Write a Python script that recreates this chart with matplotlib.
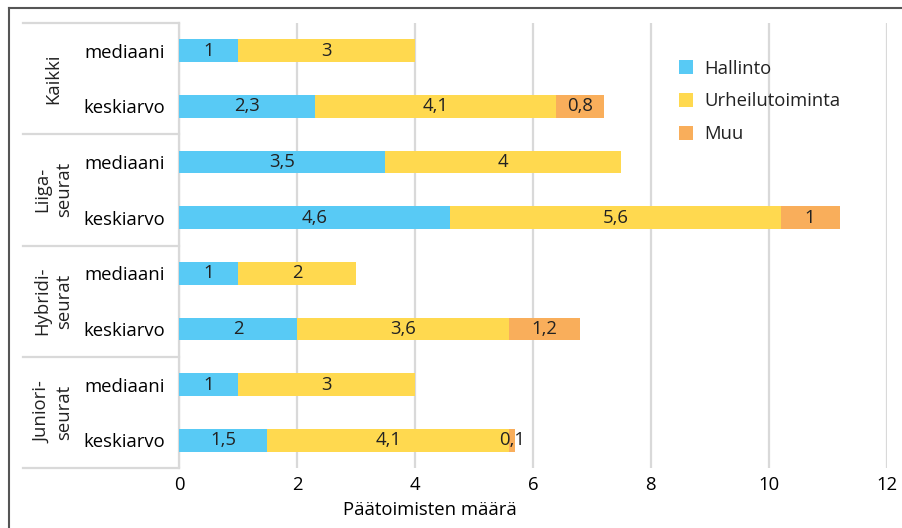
import numpy as np
import matplotlib.pyplot as plt
from matplotlib.lines import Line2D
from matplotlib.patches import Patch

plt.rcParams['font.family'] = ['Open Sans', 'DejaVu Sans']
plt.rcParams['text.color'] = '#222222'

# data (top -> bottom)
groups = ["Kaikki", "Liiga-\nseurat", "Hybridi-\nseurat", "Juniori-\nseurat"]
rows = ["mediaani", "keskiarvo"] * 4
hallinto = [1, 2.3, 3.5, 4.6, 1, 2, 1, 1.5]
urheilu = [3, 4.1, 4, 5.6, 2, 3.6, 3, 4.1]
muu = [0, 0.8, 0, 1, 0, 1.2, 0, 0.1]
series = ["Hallinto", "Urheilutoiminta", "Muu"]
colors = ["#58CAF5", "#FFD94F", "#F9AE5B"]
xticks = [0, 2, 4, 6, 8, 10, 12]

FS = 13.3
W, H = 903, 528
fig = plt.figure(figsize=(W / 100, H / 100), dpi=100)
left, right, top, bottom = 179, 886.7, 23, 468
ax = fig.add_axes([left / W, 1 - bottom / H, (right - left) / W, (bottom - top) / H])

y = np.arange(len(rows))
h = 0.41
vals = [hallinto, urheilu, muu]
start = np.zeros(len(rows))
for v, c in zip(vals, colors):
    v = np.array(v, dtype=float)
    ax.barh(y, v, left=start, height=h, color=c, zorder=3)
    for yi, s, w in zip(y, start, v):
        if w > 0:
            txt = ("%g" % w).replace(".", ",")
            ax.text(s + w / 2, yi, txt, ha="center", va="center", fontsize=FS, color="#222222", zorder=4)
    start += v

ax.set_ylim(len(rows) - 0.5, -0.5)
ax.set_xlim(0, 12)
ax.set_xticks(xticks)
ax.set_xticklabels([str(t) for t in xticks], fontsize=FS)
ax.set_yticks(y)
ax.set_yticklabels(rows, fontsize=FS)
ax.tick_params(length=0, pad=10)
ax.tick_params(axis="x", pad=6)
ax.grid(axis="x", color="#D9D9D9", linewidth=1.6, zorder=0)
for s in ["top", "right", "bottom"]:
    ax.spines[s].set_visible(False)
ax.spines["left"].set_color("#D9D9D9")
ax.spines["left"].set_linewidth(1.6)

ax.set_xlabel("Päätoimisten määrä", fontsize=FS)
ax.xaxis.set_label_coords((429.5 - left) / (right - left), -0.075)

# group labels and separators
x0 = (23 - left) / (right - left)
for i in range(5):
    yy = i * 2 - 0.5
    ax.add_line(Line2D([x0, 0], [yy, yy], transform=ax.get_yaxis_transform(),
                       color="#D9D9D9", linewidth=1.6, clip_on=False))
for i, g in enumerate(groups):
    ax.text((53 - left) / (right - left), i * 2 + 0.5, g, transform=ax.get_yaxis_transform(),
            rotation=90, ha="center", va="center", fontsize=FS, linespacing=1.3)

handles = [Patch(facecolor=c, edgecolor="none") for c in colors]
ax.legend(handles, series, loc="upper left", bbox_to_anchor=((662 - left) / (right - left), 0.955),
          frameon=False, fontsize=FS, handlelength=0.8, handleheight=0.8,
          handletextpad=0.6, labelspacing=0.8)

# outer frame (top and left)
fig.add_artist(Line2D([9 / W, 1], [1 - 7.5 / H, 1 - 7.5 / H], color="#555555", linewidth=1.5))
fig.add_artist(Line2D([9 / W, 9 / W], [0, 1 - 7.5 / H], color="#555555", linewidth=1.5))

fig.savefig("out.png", dpi=100)
